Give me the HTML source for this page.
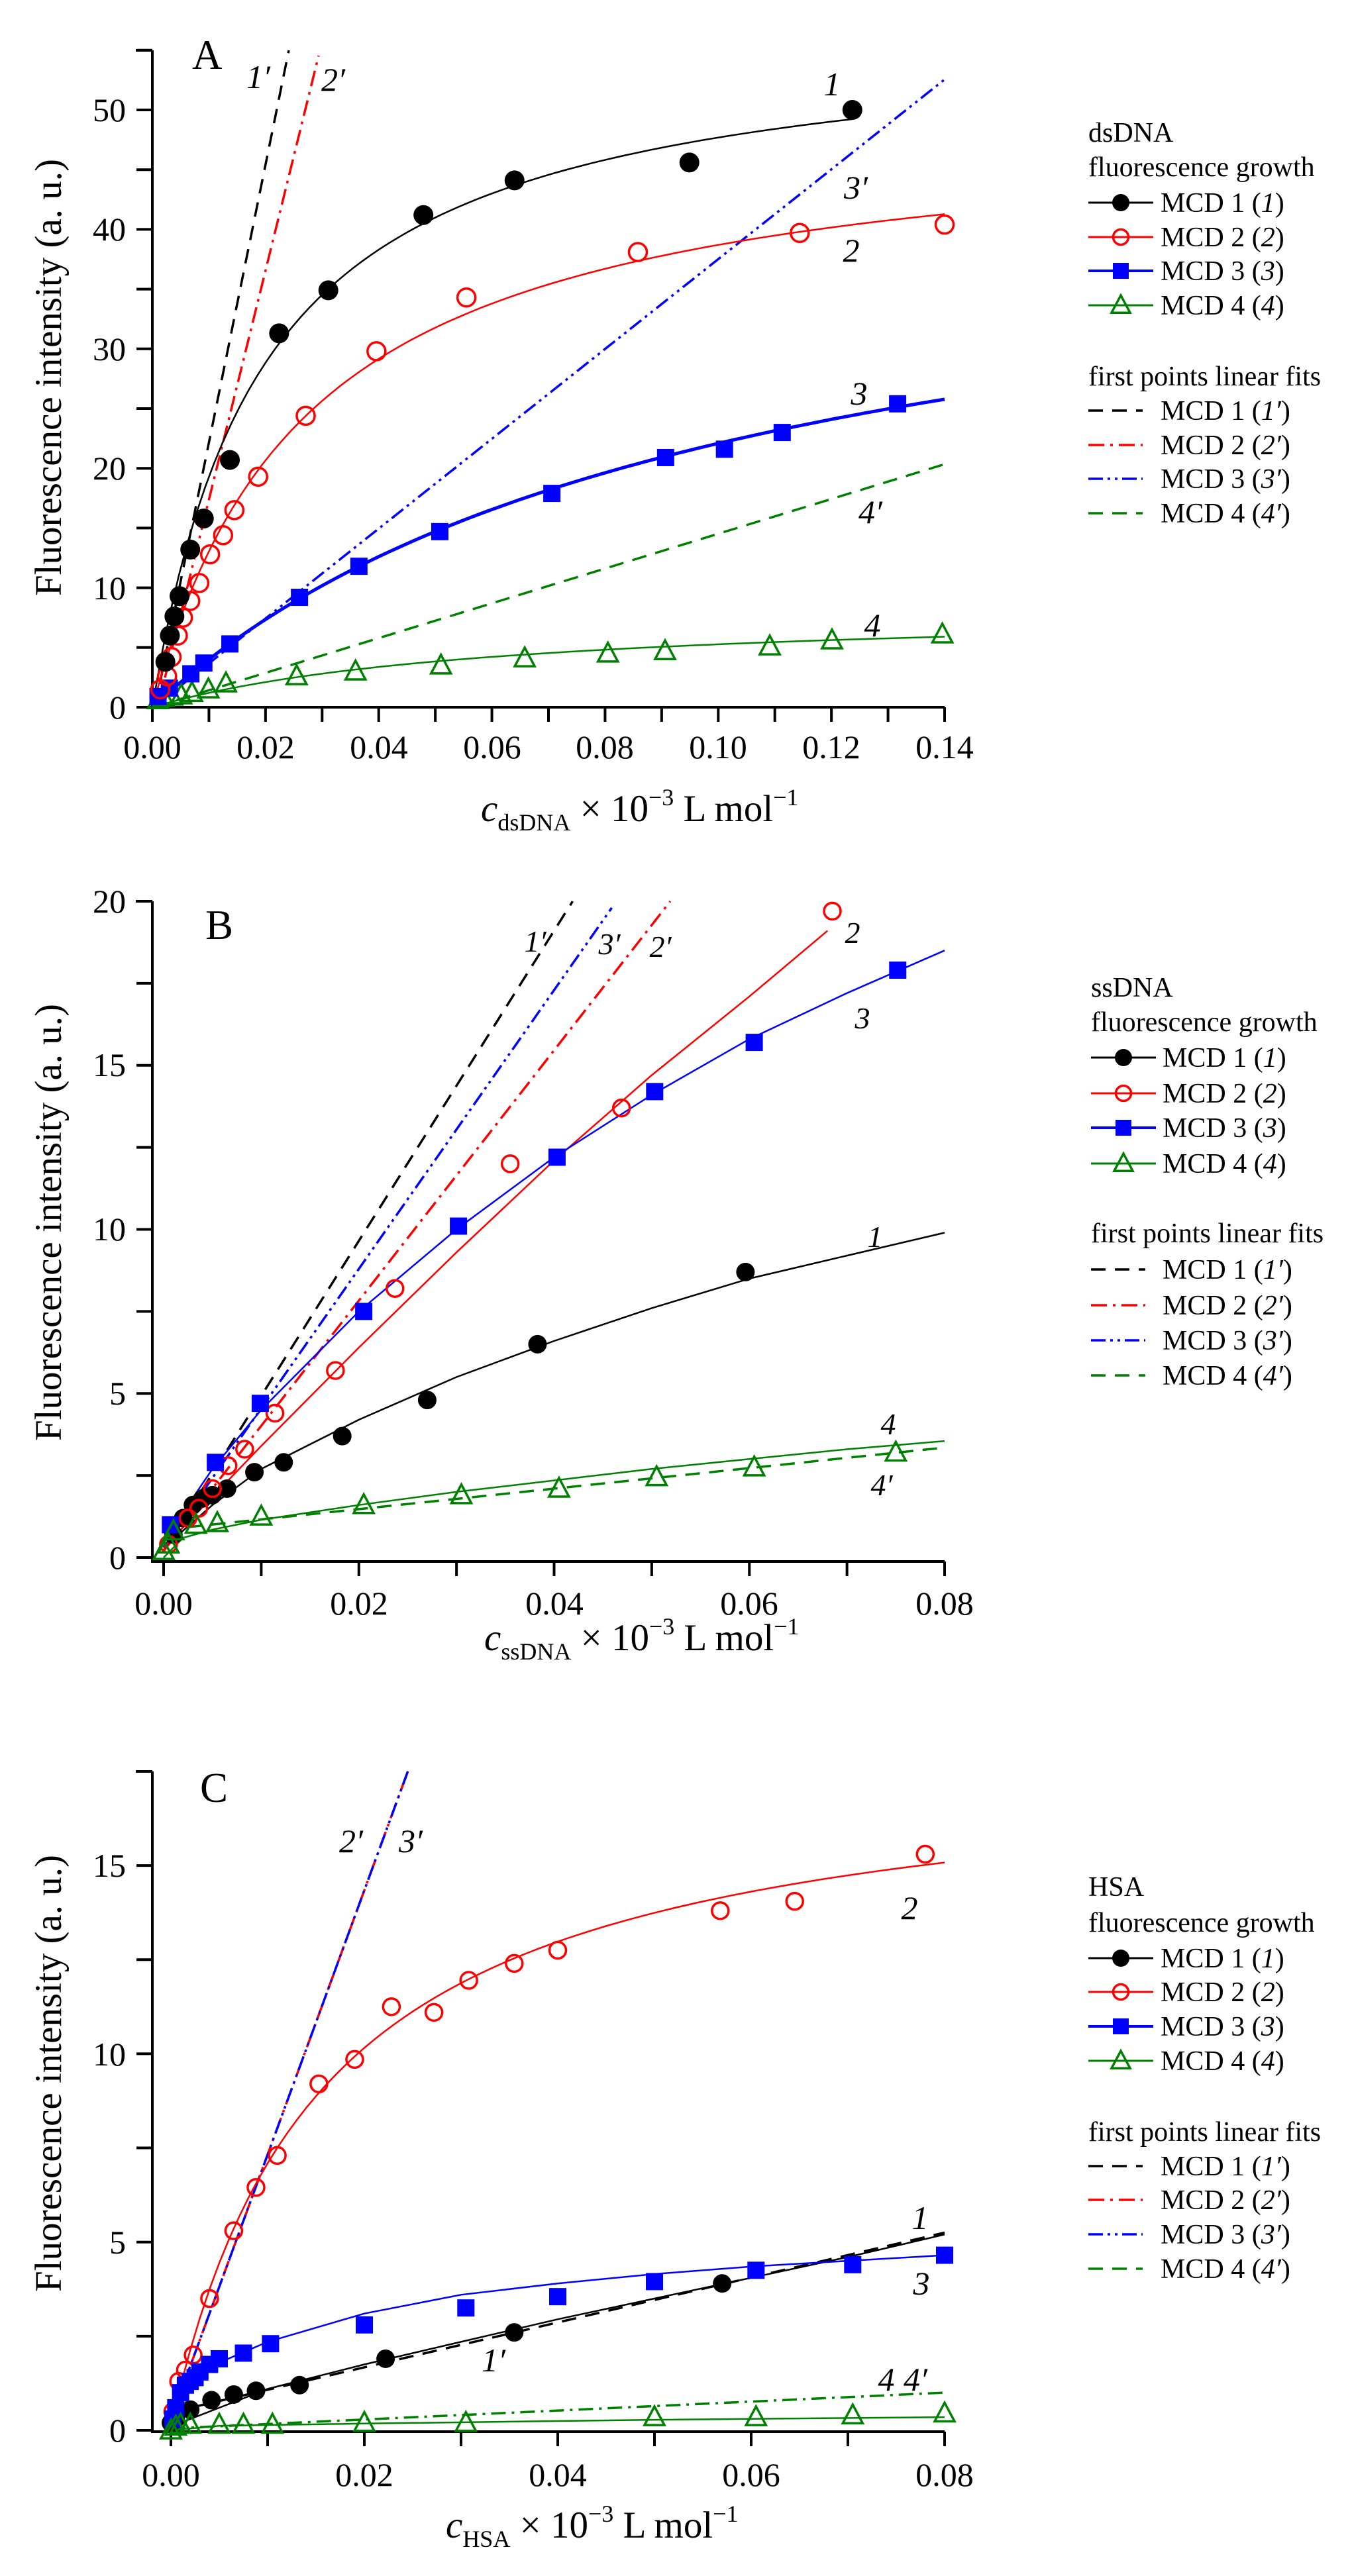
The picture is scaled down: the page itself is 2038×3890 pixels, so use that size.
<!DOCTYPE html>
<html><head><meta charset="utf-8"><style>
html,body{margin:0;padding:0;background:#fff;}
svg{display:block;}
text{font-family:"Liberation Serif",serif;fill:#000;}
.tk{font-size:50px;}
.ttl{font-size:57px;}
.lg{font-size:42px;}
.lb{font-size:50px;font-style:italic;}
.lbs{font-size:46px;font-style:italic;font-family:"Liberation Sans",sans-serif;}
</style></head><body>
<svg id="s" width="2038" height="3890" viewBox="0 0 2038 3890" xmlns="http://www.w3.org/2000/svg">
<g id="g"></g>
<!-- Panel A texts -->
<text x="290" y="104" style="font-size:63px">A</text>
<g class="tk" text-anchor="end">
<text x="190" y="1085">0</text><text x="190" y="905">10</text><text x="190" y="724">20</text><text x="190" y="544">30</text><text x="190" y="363">40</text><text x="190" y="183">50</text>
</g>
<g class="tk" text-anchor="middle">
<text x="230" y="1145">0.00</text><text x="401" y="1145">0.02</text><text x="572" y="1145">0.04</text><text x="743" y="1145">0.06</text><text x="913" y="1145">0.08</text><text x="1084" y="1145">0.10</text><text x="1255" y="1145">0.12</text><text x="1426" y="1145">0.14</text>
</g>
<text class="ttl" transform="translate(92,570) rotate(-90)" text-anchor="middle">Fluorescence intensity (a. u.)</text>
<text class="ttl" x="726" y="1240"><tspan font-style="italic">c</tspan><tspan style="font-size:36px" dy="14">dsDNA</tspan><tspan dy="-14"> × 10</tspan><tspan style="font-size:36px" dy="-24">−3</tspan><tspan dy="24"> L mol</tspan><tspan style="font-size:36px" dy="-24">−1</tspan></text>
<g class="lb" text-anchor="middle">
<text x="390" y="133">1′</text><text x="503" y="137">2′</text>
<text x="1256" y="144">1</text><text x="1292" y="300">3′</text><text x="1285" y="395">2</text><text x="1297" y="611">3</text><text x="1314" y="790">4′</text><text x="1317" y="961">4</text>
</g>
<!-- Legend A -->
<g class="lg">
<text x="1643" y="214">dsDNA</text>
<text x="1643" y="266">fluorescence growth</text>
<text x="1752" y="320">MCD 1 (<tspan font-style="italic">1</tspan>)</text>
<text x="1752" y="372">MCD 2 (<tspan font-style="italic">2</tspan>)</text>
<text x="1752" y="423">MCD 3 (<tspan font-style="italic">3</tspan>)</text>
<text x="1752" y="475">MCD 4 (<tspan font-style="italic">4</tspan>)</text>
<text x="1643" y="582">first points linear fits</text>
<text x="1752" y="634">MCD 1 (<tspan font-style="italic">1′</tspan>)</text>
<text x="1752" y="686">MCD 2 (<tspan font-style="italic">2′</tspan>)</text>
<text x="1752" y="737">MCD 3 (<tspan font-style="italic">3′</tspan>)</text>
<text x="1752" y="789">MCD 4 (<tspan font-style="italic">4′</tspan>)</text>
</g>

<!-- Panel B texts -->
<text x="310" y="1418" style="font-size:63px">B</text>
<g class="tk" text-anchor="end">
<text x="190" y="2369">0</text><text x="190" y="2121">5</text><text x="190" y="1873">10</text><text x="190" y="1625">15</text><text x="190" y="1378">20</text>
</g>
<g class="tk" text-anchor="middle">
<text x="247" y="2438">0.00</text><text x="542" y="2438">0.02</text><text x="837" y="2438">0.04</text><text x="1131" y="2438">0.06</text><text x="1426" y="2438">0.08</text>
</g>
<text class="ttl" transform="translate(92,1846) rotate(-90)" text-anchor="middle">Fluorescence intensity (a. u.)</text>
<text class="ttl" x="731" y="2492"><tspan font-style="italic">c</tspan><tspan style="font-size:36px" dy="14">ssDNA</tspan><tspan dy="-14"> × 10</tspan><tspan style="font-size:36px" dy="-24">−3</tspan><tspan dy="24"> L mol</tspan><tspan style="font-size:36px" dy="-24">−1</tspan></text>
<g class="lbs" text-anchor="middle">
<text x="808" y="1437">1′</text><text x="920" y="1441">3′</text><text x="997" y="1445">2′</text>
<text x="1287" y="1424">2</text><text x="1302" y="1553">3</text><text x="1321" y="1883">1</text><text x="1341" y="2166">4</text><text x="1331" y="2258">4′</text>
</g>
<g class="lg">
<text x="1647" y="1505">ssDNA</text>
<text x="1647" y="1557">fluorescence growth</text>
<text x="1755" y="1611">MCD 1 (<tspan font-style="italic">1</tspan>)</text>
<text x="1755" y="1665">MCD 2 (<tspan font-style="italic">2</tspan>)</text>
<text x="1755" y="1717">MCD 3 (<tspan font-style="italic">3</tspan>)</text>
<text x="1755" y="1771">MCD 4 (<tspan font-style="italic">4</tspan>)</text>
<text x="1647" y="1876">first points linear fits</text>
<text x="1755" y="1931">MCD 1 (<tspan font-style="italic">1′</tspan>)</text>
<text x="1755" y="1985">MCD 2 (<tspan font-style="italic">2′</tspan>)</text>
<text x="1755" y="2038">MCD 3 (<tspan font-style="italic">3′</tspan>)</text>
<text x="1755" y="2091">MCD 4 (<tspan font-style="italic">4′</tspan>)</text>
</g>

<!-- Panel C texts -->
<text x="302" y="2721" style="font-size:63px">C</text>
<g class="tk" text-anchor="end">
<text x="190" y="3687">0</text><text x="190" y="3403">5</text><text x="190" y="3119">10</text><text x="190" y="2834">15</text>
</g>
<g class="tk" text-anchor="middle">
<text x="258" y="3754">0.00</text><text x="550" y="3754">0.02</text><text x="842" y="3754">0.04</text><text x="1134" y="3754">0.06</text><text x="1426" y="3754">0.08</text>
</g>
<text class="ttl" transform="translate(92,3131) rotate(-90)" text-anchor="middle">Fluorescence intensity (a. u.)</text>
<text class="ttl" x="673" y="3832"><tspan font-style="italic">c</tspan><tspan style="font-size:36px" dy="14">HSA</tspan><tspan dy="-14"> × 10</tspan><tspan style="font-size:36px" dy="-24">−3</tspan><tspan dy="24"> L mol</tspan><tspan style="font-size:36px" dy="-24">−1</tspan></text>
<g class="lb" text-anchor="middle">
<text x="530" y="2797">2′</text><text x="620" y="2797">3′</text>
<text x="1373" y="2898">2</text><text x="1389" y="3366">1</text><text x="1391" y="3465">3</text><text x="745" y="3581">1′</text><text x="1338" y="3610">4</text><text x="1382" y="3610">4′</text>
</g>
<g class="lg">
<text x="1643" y="2863">HSA</text>
<text x="1643" y="2917">fluorescence growth</text>
<text x="1752" y="2971">MCD 1 (<tspan font-style="italic">1</tspan>)</text>
<text x="1752" y="3022">MCD 2 (<tspan font-style="italic">2</tspan>)</text>
<text x="1752" y="3074">MCD 3 (<tspan font-style="italic">3</tspan>)</text>
<text x="1752" y="3126">MCD 4 (<tspan font-style="italic">4</tspan>)</text>
<text x="1643" y="3233">first points linear fits</text>
<text x="1752" y="3285">MCD 1 (<tspan font-style="italic">1′</tspan>)</text>
<text x="1752" y="3336">MCD 2 (<tspan font-style="italic">2′</tspan>)</text>
<text x="1752" y="3388">MCD 3 (<tspan font-style="italic">3′</tspan>)</text>
<text x="1752" y="3440">MCD 4 (<tspan font-style="italic">4′</tspan>)</text>
</g>
</svg>
<script>
(function(){
var NS="http://www.w3.org/2000/svg",G=document.getElementById("g");
function el(t,a){var e=document.createElementNS(NS,t);for(var k in a)e.setAttribute(k,a[k]);G.appendChild(e);return e;}
var K="#000",R="#ff0000",B="#0000ff",GR="#008000";
var DS={k:"22,14",r:"24,9,4,9",b:"22,7,4,7,4,7",g:"22,14",gd:"22,9,4,9"};
function panel(P){
  var X=function(x){return P.x0+x/P.xmax*(P.x1-P.x0)};
  var Y=function(y){return P.y0-y*P.sy};
  P.X=X;P.Y=Y;
  el("line",{x1:230,y1:P.axY,x2:1426,y2:P.axY,stroke:"#000","stroke-width":4});
  el("line",{x1:230,y1:P.top,x2:230,y2:P.axY+2,stroke:"#000","stroke-width":4});
  el("line",{x1:205,y1:P.top,x2:230,y2:P.top,stroke:"#000","stroke-width":4});
  for(var v=0;v<=P.ymax+1e-9;v+=P.yminor){el("line",{x1:206,y1:Y(v),x2:230,y2:Y(v),stroke:"#000","stroke-width":4});}
  for(var u=0;u<=P.xmax+1e-9;u+=P.xminor){el("line",{x1:X(u),y1:P.axY,x2:X(u),y2:P.axY+22,stroke:"#000","stroke-width":4});}
}
function pl(P,pts,col,w,dash){var d=pts.map(function(p,i){return (i?"L":"M")+P.X(p[0]).toFixed(1)+" "+P.Y(p[1]).toFixed(1)}).join(" ");
  var a={d:d,fill:"none",stroke:col,"stroke-width":w};if(dash)a["stroke-dasharray"]=dash;el("path",a);}
function pxline(x1,y1,x2,y2,col,dash,w){el("line",{x1:x1,y1:y1,x2:x2,y2:y2,stroke:col,"stroke-width":w||3.5,"stroke-dasharray":dash});}
function fn(f,a,b){var r=[];for(var i=0;i<=80;i++){var x=a+(b-a)*i/80;r.push([x,f(x)]);}return r;}
function mk(type,x,y,s){
  s=s||14;
  if(type=="c")el("circle",{cx:x,cy:y,r:s,fill:"#000"});
  else if(type=="o")el("circle",{cx:x,cy:y,r:s-1.5,fill:"none",stroke:R,"stroke-width":3.5});
  else if(type=="s")el("rect",{x:x-s+1,y:y-s+1,width:2*s-2,height:2*s-2,fill:B});
  else if(type=="t"){var h=s*1.15;el("polygon",{points:(x)+","+(y-h)+" "+(x-s-1)+","+(y+h*0.75)+" "+(x+s+1)+","+(y+h*0.75),fill:"none",stroke:GR,"stroke-width":3.5});}
}
function pts(P,arr,type,s){arr.forEach(function(p){mk(type,P.X(p[0]),P.Y(p[1]),s)});}
function legend(x0,rows,frows){
  var cols=[K,R,B,GR],types=["c","o","s","t"];
  rows.forEach(function(y,i){el("line",{x1:x0,y1:y,x2:x0+98,y2:y,stroke:cols[i],"stroke-width":i==2?4:3});mk(types[i],x0+49,y,13);});
  var ds=[DS.k,DS.r,DS.b,DS.g];
  frows.forEach(function(y,i){el("line",{x1:x0,y1:y,x2:x0+82,y2:y,stroke:cols[i],"stroke-width":3.5,"stroke-dasharray":ds[i]});});
}

// ===== Panel A =====
var A={x0:230,x1:1426,xmax:0.14,y0:1068,sy:18.04,top:76,axY:1068,ymax:55,yminor:5,xminor:0.01};
panel(A);
pxline(234,1068,436,76,K,DS.k);
pxline(238,1068,481,84,R,DS.r);
pxline(232,1068,1426,120,B,DS.b);
pxline(232,1068,1426,701,GR,DS.g);
pl(A,fn(function(x){return 57*x/(0.01953+x)},0,0.1237),K,2.5);
pl(A,fn(function(x){return 49.5*x/(0.0279+x)},0,0.14),R,2.5);
pl(A,fn(function(x){return 44.3*x/(0.1006+x)},0,0.14),B,5);
pl(A,fn(function(x){return 8.43*x/(0.06+x)},0,0.14),GR,2.5);
pts(A,[[0.001,0.6],[0.002,0.8],[0.0035,0.9],[0.0051,1],[0.007,1.2],[0.0099,1.5],[0.013,2],[0.0255,2.6],[0.0359,3],[0.051,3.5],[0.0658,4.1],[0.0805,4.5],[0.0906,4.7],[0.1091,5.1],[0.1201,5.6],[0.1396,6.1]],"t",14);
pts(A,[[0.001,0.9],[0.003,1.6],[0.0068,2.8],[0.0091,3.7],[0.0137,5.3],[0.026,9.2],[0.0365,11.8],[0.0508,14.7],[0.0706,17.9],[0.0907,20.9],[0.1011,21.6],[0.1113,23],[0.1317,25.4]],"s",14);
pts(A,[[0.0014,1.5],[0.0026,2.6],[0.0034,4.2],[0.0045,6],[0.0054,7.5],[0.0067,8.9],[0.0083,10.4],[0.0102,12.8],[0.0125,14.4],[0.0145,16.5],[0.0187,19.3],[0.0271,24.4],[0.0396,29.8],[0.0555,34.3],[0.0858,38.1],[0.1144,39.7],[0.14,40.4]],"o",15);
pts(A,[[0.0023,3.8],[0.0031,6],[0.0039,7.6],[0.0048,9.3],[0.0067,13.2],[0.0091,15.8],[0.0137,20.7],[0.0224,31.3],[0.0311,34.9],[0.0479,41.2],[0.064,44.1],[0.0949,45.6],[0.1237,50]],"c",15);
legend(1643,[306,358,409,461],[620,672,723,775]);

// ===== Panel B =====
var Bp={x0:247,x1:1426,xmax:0.08,y0:2352,sy:49.55,top:1361,axY:2358,ymax:20,yminor:2.5,xminor:0.01};
panel(Bp);
pl(Bp,[[0,0.2],[0.0419,20]],K,3.5,DS.k);
pl(Bp,[[0,0.3],[0.0459,19.8]],B,3.5,DS.b);
pl(Bp,[[0,0.2],[0.0519,20]],R,3.5,DS.r);
pl(Bp,[[0,0.85],[0.08,3.35]],GR,3.5,DS.g);
pl(Bp,[[0,0.3],[0.005,1.6],[0.01,2.7],[0.02,4.2],[0.03,5.5],[0.04,6.6],[0.05,7.6],[0.06,8.5],[0.07,9.2],[0.08,9.9]],K,2.5);
pl(Bp,[[0,0.3],[0.01,3.4],[0.02,6.4],[0.03,9.3],[0.04,12.1],[0.05,14.7],[0.06,17.1],[0.068,19.1]],R,2.5);
pl(Bp,[[0,0.5],[0.005,2.7],[0.01,4.5],[0.02,7.5],[0.03,10],[0.04,12.2],[0.05,14.1],[0.06,15.8],[0.07,17.2],[0.08,18.5]],B,2.5);
pl(Bp,[[0,0],[0.002,0.6],[0.005,0.85],[0.01,1.15],[0.02,1.6],[0.03,2.0],[0.04,2.35],[0.05,2.7],[0.06,3.0],[0.07,3.3],[0.08,3.55]],GR,2.5);
pts(Bp,[[0.001,0.7],[0.002,1.2],[0.003,1.6],[0.004,1.8],[0.005,1.9],[0.0065,2.1],[0.0093,2.6],[0.0123,2.9],[0.0183,3.7],[0.027,4.8],[0.0383,6.5],[0.0596,8.7]],"c",14);
pts(Bp,[[0.0005,0.4],[0.0025,1.2],[0.0036,1.5],[0.005,2.1],[0.0066,2.8],[0.0083,3.3],[0.0114,4.4],[0.0176,5.7],[0.0237,8.2],[0.0355,12],[0.0469,13.7],[0.0685,19.7]],"o",14);
pts(Bp,[[0.0007,1],[0.0053,2.9],[0.0099,4.7],[0.0205,7.5],[0.0302,10.1],[0.0403,12.2],[0.0503,14.2],[0.0605,15.7],[0.0752,17.9]],"s",14);
pts(Bp,[[0,0.2],[0.0005,0.4],[0.001,0.8],[0.0033,1],[0.0055,1.05],[0.01,1.25],[0.0205,1.6],[0.0305,1.9],[0.0405,2.1],[0.0505,2.45],[0.0605,2.75],[0.075,3.2]],"t",14);
legend(1647,[1597,1651,1703,1757],[1917,1971,2024,2077]);

// ===== Panel C =====
var C={x0:258,x1:1426,xmax:0.08,y0:3670,sy:56.86,top:2675,axY:3672,ymax:17.5,yminor:2.5,xminor:0.01};
panel(C);
pl(C,[[0,0.3],[0.0245,17.5]],R,3.5,DS.r);
pl(C,[[0,0.3],[0.0245,17.5]],B,3.5,DS.b);
pl(C,[[0.002,0.6],[0.08,5.25]],K,3.5,DS.k);
pl(C,[[0,0.05],[0.08,1.0]],GR,3.5,DS.gd);
pl(C,fn(function(x){return 17.9*x/(0.0156+x)+0.1},0,0.08),R,2.5);
pl(C,[[0,0.1],[0.01,1.1],[0.02,1.75],[0.03,2.35],[0.04,2.95],[0.05,3.5],[0.06,4.05],[0.07,4.6],[0.08,5.2]],K,2.5);
pl(C,[[0,0.2],[0.002,1.3],[0.005,1.8],[0.01,2.35],[0.02,3.1],[0.03,3.6],[0.04,3.9],[0.05,4.15],[0.06,4.35],[0.07,4.5],[0.08,4.65]],B,2.5);
pl(C,[[0,0],[0.005,0.12],[0.02,0.18],[0.05,0.28],[0.08,0.35]],GR,2.5);
pts(C,[[0,0.2],[0.0005,0.3],[0.002,0.55],[0.0042,0.8],[0.0065,0.95],[0.0088,1.05],[0.0133,1.2],[0.0222,1.9],[0.0355,2.6],[0.057,3.9]],"c",14);
pts(C,[[0.0002,0.5],[0.0008,1.3],[0.0015,1.6],[0.0023,2],[0.004,3.5],[0.0065,5.3],[0.0088,6.45],[0.011,7.3],[0.0153,9.2],[0.019,9.85],[0.0228,11.25],[0.0272,11.1],[0.0308,11.95],[0.0355,12.4],[0.04,12.75],[0.0568,13.8],[0.0645,14.05],[0.078,15.3]],"o",14);
pts(C,[[0.0002,0.3],[0.0005,0.6],[0.001,1],[0.0015,1.2],[0.002,1.3],[0.0025,1.4],[0.003,1.55],[0.004,1.75],[0.005,1.9],[0.0075,2.05],[0.0103,2.3],[0.02,2.8],[0.0305,3.25],[0.04,3.55],[0.05,3.95],[0.0605,4.25],[0.0705,4.4],[0.08,4.65]],"s",14);
pts(C,[[0,0],[0.0005,0.1],[0.001,0.15],[0.002,0.15],[0.005,0.15],[0.0075,0.15],[0.0105,0.15],[0.02,0.2],[0.0305,0.2],[0.05,0.35],[0.0605,0.35],[0.0705,0.4],[0.08,0.45]],"t",14);
legend(1643,[2957,3008,3060,3112],[3271,3322,3374,3426]);
})();
</script>
</body></html>
